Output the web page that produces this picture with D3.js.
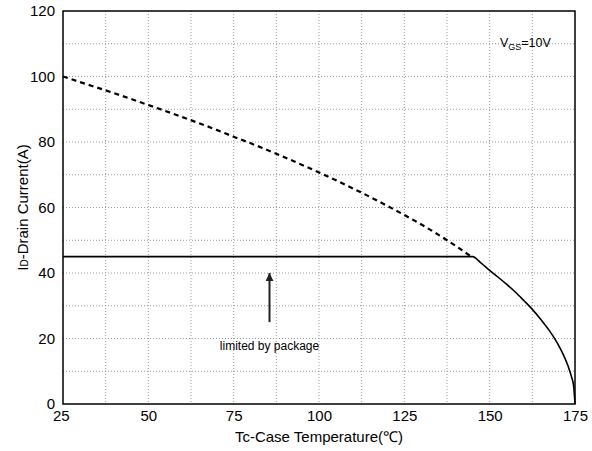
<!DOCTYPE html>
<html>
<head>
<meta charset="utf-8">
<script src="https://cdn.jsdelivr.net/npm/d3@7"></script>
<style>
  body { margin: 0; background: #fff; }
  text { font-family: "Liberation Sans", Arial, sans-serif; fill: #000; }
</style>
</head>
<body>
<div id="chart"></div>
<script>
// temperature (°C) vs drain current (A)
const dashTemps = [25, 30, 40, 50, 60, 70, 75, 80, 90, 100, 110, 120, 125, 130, 140, 145]
const dashCurrent = [100, 98.3, 94.9, 91.3, 87.6, 83.7, 81.6, 79.6, 75.3, 70.7, 65.8, 60.5, 57.7, 54.8, 48.3, 44.7]

const solidTemps = [25, 145, 147.5, 150, 152.5, 155, 157.5, 160, 162.5, 165, 167.5, 170, 172, 173, 174, 174.6, 175]
const solidCurrent = [45, 45, 43, 40.8, 38.7, 36.5, 34.2, 31.6, 28.9, 25.8, 22.4, 18.3, 14.1, 11.5, 8.2, 5.5, 0]

const xTicks = [25, 50, 75, 100, 125, 150, 175]
const yTicks = [0, 20, 40, 60, 80, 100, 120]
const xGrid = [37.5, 50, 62.5, 75, 87.5, 100, 112.5, 125, 137.5, 150, 162.5]
const yGrid = [10, 20, 30, 40, 50, 60, 70, 80, 90, 100, 110]

const dms = {
    width: 592,
    height: 451,
    margin: { top: 11, right: 17, bottom: 47, left: 63 }
}
dms.contentWidth = dms.width - dms.margin.left - dms.margin.right
dms.contentHeight = dms.height - dms.margin.top - dms.margin.bottom

const svg = d3.select('#chart').append('svg')
    .attr('width', dms.width)
    .attr('height', dms.height)

const content = svg.append('g')
    .attr('transform', `translate(${dms.margin.left},${dms.margin.top})`)

const x = d3.scaleLinear().domain([25, 175]).range([0, dms.contentWidth])
const y = d3.scaleLinear().domain([0, 120]).range([dms.contentHeight, 0])

// grid
content.append('g').selectAll('line')
    .data(xGrid)
    .join('line')
    .attr('x1', d => x(d)).attr('x2', d => x(d))
    .attr('y1', 0).attr('y2', dms.contentHeight)
    .attr('stroke', '#999').attr('stroke-width', 1)
    .attr('stroke-dasharray', '1,2')

content.append('g').selectAll('line')
    .data(yGrid)
    .join('line')
    .attr('y1', d => y(d)).attr('y2', d => y(d))
    .attr('x1', 0).attr('x2', dms.contentWidth)
    .attr('stroke', '#999').attr('stroke-width', 1)
    .attr('stroke-dasharray', '1,2')

// axes (labels only)
const xAxis = content.append('g')
    .attr('transform', `translate(0,${dms.contentHeight})`)
    .call(d3.axisBottom(x).tickValues(xTicks).tickSize(0).tickPadding(6))
xAxis.select('.domain').remove()
xAxis.selectAll('text').attr('font-size', 15).style('font-family', '"Liberation Sans", Arial, sans-serif')
xAxis.selectAll('.tick').filter(d => d === 25).select('text').attr('dx', '-0.15em')

const yAxis = content.append('g')
    .call(d3.axisLeft(y).tickValues(yTicks).tickSize(0).tickPadding(8))
yAxis.select('.domain').remove()
yAxis.selectAll('text').attr('font-size', 15).style('font-family', '"Liberation Sans", Arial, sans-serif')

// frame
content.append('rect')
    .attr('x', 0).attr('y', 0)
    .attr('width', dms.contentWidth).attr('height', dms.contentHeight)
    .attr('fill', 'none').attr('stroke', '#000').attr('stroke-width', 1.5)

const line = d3.line()
    .x(d => x(d[0]))
    .y(d => y(d[1]))
    .curve(d3.curveMonotoneX)

content.append('path')
    .datum(d3.zip(dashTemps, dashCurrent))
    .attr('d', line)
    .attr('fill', 'none').attr('stroke', '#000').attr('stroke-width', 2.2)
    .attr('stroke-dasharray', '5,4')

content.append('path')
    .datum(d3.zip(solidTemps, solidCurrent))
    .attr('d', line)
    .attr('fill', 'none').attr('stroke', '#000').attr('stroke-width', 1.6)

// arrow
svg.append('defs').append('marker')
    .attr('id', 'arrowhead')
    .attr('viewBox', '0 0 10 10')
    .attr('refX', 10).attr('refY', 5)
    .attr('markerWidth', 4).attr('markerHeight', 4)
    .attr('orient', 'auto')
    .append('path').attr('d', 'M0,0 L10,5 L0,10 Z').attr('fill', '#222')

content.append('line')
    .attr('x1', x(85.5)).attr('x2', x(85.5))
    .attr('y1', y(25)).attr('y2', y(40))
    .attr('stroke', '#222').attr('stroke-width', 2)
    .attr('marker-end', 'url(#arrowhead)')

content.append('text')
    .attr('x', x(85.5)).attr('y', y(16.6))
    .attr('text-anchor', 'middle')
    .attr('font-size', 12)
    .text('limited by package')

const vgs = content.append('text')
    .attr('x', x(153)).attr('y', y(109))
    .attr('font-size', 12.5)
vgs.append('tspan').text('V')
vgs.append('tspan').attr('font-size', 9).attr('dy', 3).text('GS')
vgs.append('tspan').attr('dy', -3).text('=10V')

// titles
svg.append('text')
    .attr('x', dms.margin.left + x(100)).attr('y', 442)
    .attr('text-anchor', 'middle')
    .attr('font-size', 15)
    .text('Tc-Case Temperature(℃)')

const yt = svg.append('text')
    .attr('transform', `translate(28,${dms.margin.top + y(60)}) rotate(-90)`)
    .attr('text-anchor', 'middle')
    .attr('font-size', 15)
yt.append('tspan').text('I')
yt.append('tspan').attr('font-size', 10).text('D')
yt.append('tspan').text('-Drain Current(A)')
</script>
</body>
</html>
